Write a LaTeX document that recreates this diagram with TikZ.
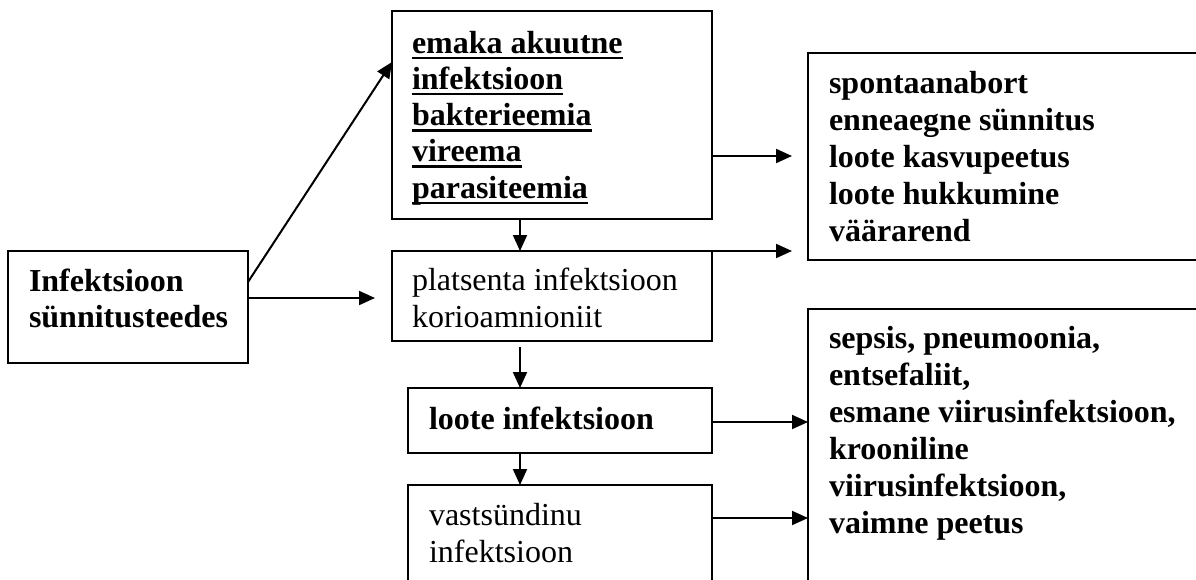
\documentclass[tikz,border=0pt]{standalone}
\usepackage{fontspec}
\setmainfont{Liberation Serif}
\usetikzlibrary{arrows.meta}
\newcommand\myul[1]{\setbox0\hbox{#1}\rlap{\rule[-6pt]{\wd0}{2.4pt}}\box0}
\begin{document}
\begin{tikzpicture}[x=1pt,y=-1pt,line width=2pt,
  >={Triangle[length=16pt,width=14pt]},
  box/.style={draw,line width=2pt,inner sep=0pt,outer sep=0pt,anchor=north west},
  txt/.style={inner sep=0pt,outer sep=0pt,anchor=base west,align=left,
    font=\fontsize{32}{37}\selectfont},
  btxt/.style={txt,font=\fontsize{32}{37}\selectfont\bfseries},
  conn/.style={->,line width=2pt}]
\useasboundingbox (0,0) rectangle (1196,580);
\clip (0,0) rectangle (1196,580);
% boxes
\node[box,minimum width=240pt,minimum height=112pt] (bA) at (8,251) {};
\node[box,minimum width=320pt,minimum height=208pt] (bB) at (392,11) {};
\node[box,minimum width=320pt,minimum height=90pt] (bC) at (392,251) {};
\node[box,minimum width=304pt,minimum height=65pt] (bD) at (408,388) {};
\node[box,minimum width=304pt,minimum height=140pt] (bE) at (408,485) {};
\node[box,minimum width=440pt,minimum height=207pt] (bF) at (808,53) {};
\node[box,minimum width=440pt,minimum height=320pt] (bG) at (808,309) {};
% texts (anchored at the baseline of the last line)
\node[btxt,font=\fontsize{32}{36}\selectfont\bfseries] (tA) at (29,327) {Infektsioon\\sünnitusteedes};
\node[btxt,font=\fontsize{32}{36.2}\selectfont\bfseries] (tB) at (412,198)
  {\myul{emaka akuutne}\\\myul{infektsioon}\\\myul{bakterieemia}\\\myul{vireema}\\\myul{parasiteemia}};
\node[txt] (tC) at (412,327) {platsenta infektsioon\\korioamnioniit};
\node[btxt] (tD) at (429,429) {loote infektsioon};
\node[txt] (tE) at (429,562) {vastsündinu\\infektsioon};
\node[btxt] (tF) at (829,241) {spontaanabort\\enneaegne sünnitus\\loote kasvupeetus\\loote hukkumine\\väärarend};
\node[btxt] (tG) at (829,533) {sepsis, pneumoonia,\\entsefaliit,\\esmane viirusinfektsioon,\\krooniline\\viirusinfektsioon,\\vaimne peetus};
% connectors
\draw[conn] ([yshift=-31pt]bA.north east) -- ([yshift=-51pt]bB.north west);
\draw[conn] ([yshift=-47pt]bA.north east) -- ([xshift=-17pt,yshift=-47pt]bC.north west);
\draw[conn] ([xshift=128pt]bB.south west) -- ([xshift=128pt]bC.north west);
\draw[conn] ([xshift=128pt,yshift=-6pt]bC.south west) -- ([xshift=112pt]bD.north west);
\draw[conn] ([xshift=112pt]bD.south west) -- ([xshift=112pt]bE.north west);
\draw[conn] ([yshift=-145pt]bB.north east) -- ([xshift=-16pt,yshift=-103pt]bF.north west);
\draw[conn] (bC.north east) -- ([xshift=-16pt,yshift=-198pt]bF.north west);
\draw[conn] ([yshift=-34pt]bD.north east) -- ([yshift=-113pt]bG.north west);
\draw[conn] ([yshift=-33pt]bE.north east) -- ([yshift=-209pt]bG.north west);
\end{tikzpicture}
\end{document}
